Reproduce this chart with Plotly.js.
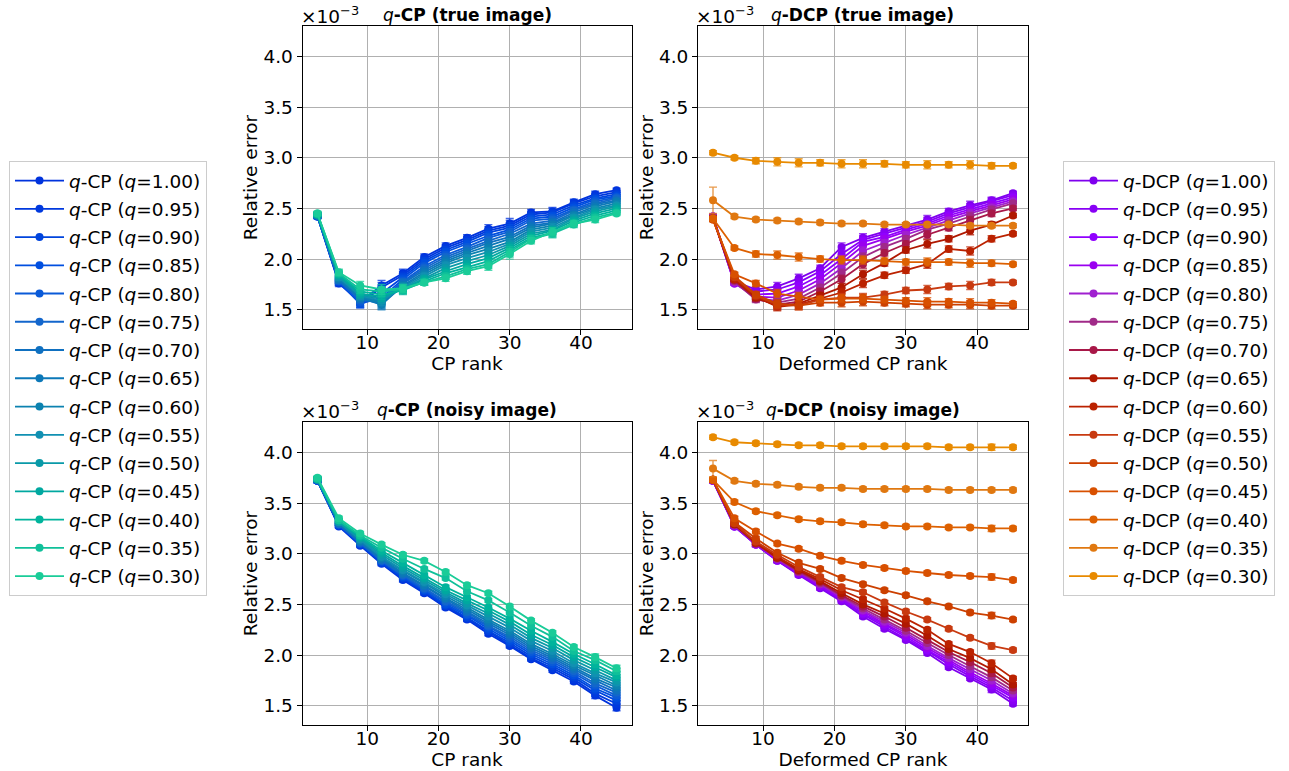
<!DOCTYPE html>
<html>
<head>
<meta charset="utf-8">
<script src="https://cdn.plot.ly/plotly-3.0.1.min.js"></script>
<style>
  html, body { margin: 0; padding: 0; background: #ffffff; }
  #chart { width: 1289px; height: 771px; }
</style>
</head>
<body>
<div id="chart"></div>
<script>
// ---------------- data (values in units of 1e-3) ----------------
const ranks = [3, 6, 9, 12, 15, 18, 21, 24, 27, 30, 33, 36, 39, 42, 45];
const qLabels = ['1.00','0.95','0.90','0.85','0.80','0.75','0.70','0.65','0.60','0.55','0.50','0.45','0.40','0.35','0.30'];

const cpColors = ['#0033dd','#0039de','#0044dd','#004fe0','#0a5ad8','#1366cc','#0f70c0','#0c78b8','#0c82b0','#1190b2','#0a9aa8','#00a8a0','#00b49c','#10c09a','#1acc98'];
const dcpColors = ['#7f00ee','#8800f5','#9000ff','#9a00f0','#a020d0','#a02a88','#a81848','#b01800','#bb2200','#c83a10','#cc4000','#d85000','#dd6000','#e07810','#e88a00'];

// q-CP, true image (rows: q = 1.00 ... 0.30)
const cpTrue = [
  [2.42, 1.76, 1.58, 1.74, 1.86, 2.02, 2.13, 2.21, 2.30, 2.35, 2.46, 2.47, 2.56, 2.64, 2.68],
  [2.42, 1.77, 1.56, 1.72, 1.84, 2.00, 2.11, 2.19, 2.28, 2.33, 2.44, 2.46, 2.55, 2.62, 2.66],
  [2.42, 1.77, 1.57, 1.66, 1.82, 1.98, 2.09, 2.17, 2.26, 2.31, 2.42, 2.44, 2.53, 2.60, 2.64],
  [2.43, 1.78, 1.56, 1.62, 1.80, 1.96, 2.07, 2.15, 2.23, 2.29, 2.40, 2.42, 2.51, 2.59, 2.62],
  [2.43, 1.78, 1.58, 1.60, 1.78, 1.93, 2.04, 2.12, 2.21, 2.27, 2.38, 2.40, 2.49, 2.57, 2.61],
  [2.43, 1.79, 1.60, 1.58, 1.77, 1.91, 2.02, 2.10, 2.18, 2.25, 2.35, 2.38, 2.48, 2.55, 2.60],
  [2.43, 1.79, 1.61, 1.56, 1.76, 1.89, 2.00, 2.08, 2.16, 2.22, 2.33, 2.36, 2.46, 2.54, 2.58],
  [2.43, 1.80, 1.62, 1.55, 1.74, 1.87, 1.98, 2.06, 2.13, 2.20, 2.31, 2.35, 2.44, 2.52, 2.57],
  [2.43, 1.81, 1.63, 1.57, 1.73, 1.85, 1.96, 2.04, 2.10, 2.17, 2.29, 2.33, 2.43, 2.50, 2.55],
  [2.44, 1.82, 1.64, 1.59, 1.72, 1.83, 1.94, 2.01, 2.07, 2.15, 2.27, 2.31, 2.41, 2.49, 2.53],
  [2.44, 1.83, 1.65, 1.61, 1.71, 1.81, 1.91, 1.98, 2.04, 2.13, 2.25, 2.29, 2.40, 2.47, 2.52],
  [2.44, 1.84, 1.66, 1.63, 1.70, 1.80, 1.88, 1.95, 2.01, 2.11, 2.23, 2.28, 2.38, 2.45, 2.50],
  [2.44, 1.85, 1.68, 1.65, 1.69, 1.78, 1.86, 1.92, 1.98, 2.09, 2.21, 2.26, 2.36, 2.43, 2.48],
  [2.45, 1.86, 1.70, 1.68, 1.70, 1.77, 1.83, 1.90, 1.95, 2.07, 2.20, 2.25, 2.34, 2.41, 2.46],
  [2.45, 1.87, 1.74, 1.70, 1.71, 1.77, 1.81, 1.88, 1.93, 2.05, 2.18, 2.27, 2.35, 2.39, 2.45]
];
const cpTrueErr = [0.02, 0.03, 0.04, 0.05, 0.04, 0.03, 0.03, 0.03, 0.04, 0.05, 0.03, 0.04, 0.03, 0.03, 0.02];

// q-DCP, true image
const dcpTrue = [
  [2.42, 1.78, 1.70, 1.73, 1.81, 1.91, 2.12, 2.21, 2.27, 2.33, 2.39, 2.47, 2.53, 2.58, 2.65],
  [2.42, 1.77, 1.68, 1.70, 1.77, 1.88, 2.05, 2.19, 2.25, 2.31, 2.37, 2.45, 2.51, 2.57, 2.63],
  [2.42, 1.76, 1.65, 1.66, 1.73, 1.84, 2.00, 2.17, 2.22, 2.29, 2.35, 2.43, 2.49, 2.55, 2.61],
  [2.41, 1.76, 1.63, 1.62, 1.69, 1.80, 1.96, 2.13, 2.20, 2.27, 2.33, 2.41, 2.47, 2.53, 2.59],
  [2.41, 1.77, 1.61, 1.59, 1.65, 1.76, 1.91, 2.08, 2.16, 2.24, 2.31, 2.38, 2.45, 2.51, 2.57],
  [2.41, 1.78, 1.60, 1.57, 1.61, 1.72, 1.86, 2.02, 2.12, 2.20, 2.29, 2.35, 2.42, 2.49, 2.55],
  [2.40, 1.79, 1.61, 1.55, 1.58, 1.68, 1.80, 1.95, 2.06, 2.15, 2.24, 2.31, 2.38, 2.45, 2.50],
  [2.40, 1.80, 1.62, 1.54, 1.56, 1.64, 1.72, 1.85, 1.96, 2.09, 2.15, 2.20, 2.28, 2.34, 2.43],
  [2.40, 1.80, 1.63, 1.53, 1.55, 1.61, 1.67, 1.76, 1.84, 1.89, 1.95, 2.10, 2.08, 2.20, 2.25],
  [2.40, 1.82, 1.64, 1.55, 1.54, 1.60, 1.62, 1.62, 1.65, 1.69, 1.70, 1.73, 1.74, 1.77, 1.77],
  [2.39, 1.83, 1.65, 1.56, 1.54, 1.57, 1.57, 1.58, 1.57, 1.56, 1.55, 1.55, 1.55, 1.54, 1.54],
  [2.39, 1.85, 1.76, 1.66, 1.63, 1.60, 1.61, 1.61, 1.60, 1.59, 1.58, 1.58, 1.57, 1.57, 1.56],
  [2.40, 2.11, 2.05, 2.04, 2.02, 2.00, 1.99, 1.99, 1.98, 1.97, 1.97, 1.97, 1.96, 1.96, 1.95],
  [2.58, 2.42, 2.39, 2.38, 2.37, 2.36, 2.35, 2.35, 2.34, 2.34, 2.34, 2.34, 2.33, 2.33, 2.33],
  [3.05, 3.00, 2.97, 2.96, 2.95, 2.95, 2.94, 2.94, 2.94, 2.93, 2.93, 2.93, 2.93, 2.92, 2.92]
];
const dcpTrueErr = [0.02, 0.02, 0.03, 0.04, 0.04, 0.03, 0.04, 0.04, 0.03, 0.03, 0.04, 0.03, 0.04, 0.03, 0.02];
const dcpTrueErrQ035 = [0.13, 0.02, 0.02, 0.02, 0.02, 0.02, 0.02, 0.02, 0.02, 0.02, 0.02, 0.02, 0.02, 0.02, 0.02];

// q-CP, noisy image
const cpNoisy = [
  [3.72, 3.27, 3.08, 2.90, 2.74, 2.61, 2.47, 2.35, 2.21, 2.09, 1.96, 1.85, 1.74, 1.60, 1.48],
  [3.72, 3.28, 3.09, 2.91, 2.75, 2.62, 2.48, 2.36, 2.23, 2.10, 1.97, 1.87, 1.76, 1.62, 1.52],
  [3.72, 3.28, 3.09, 2.91, 2.76, 2.63, 2.49, 2.37, 2.24, 2.12, 1.99, 1.89, 1.78, 1.65, 1.55],
  [3.72, 3.28, 3.10, 2.92, 2.77, 2.64, 2.50, 2.39, 2.26, 2.14, 2.01, 1.91, 1.80, 1.67, 1.58],
  [3.73, 3.29, 3.10, 2.93, 2.78, 2.65, 2.52, 2.40, 2.28, 2.16, 2.03, 1.93, 1.82, 1.70, 1.60],
  [3.73, 3.29, 3.11, 2.93, 2.79, 2.66, 2.53, 2.42, 2.29, 2.18, 2.05, 1.95, 1.84, 1.72, 1.63],
  [3.73, 3.30, 3.12, 2.94, 2.80, 2.68, 2.55, 2.43, 2.31, 2.20, 2.07, 1.97, 1.86, 1.75, 1.65],
  [3.73, 3.30, 3.12, 2.95, 2.81, 2.69, 2.56, 2.45, 2.33, 2.22, 2.09, 1.99, 1.88, 1.77, 1.68],
  [3.73, 3.31, 3.13, 2.96, 2.83, 2.71, 2.58, 2.47, 2.35, 2.24, 2.11, 2.01, 1.90, 1.80, 1.70],
  [3.73, 3.31, 3.14, 2.97, 2.84, 2.72, 2.60, 2.49, 2.38, 2.27, 2.14, 2.04, 1.92, 1.82, 1.73],
  [3.74, 3.32, 3.15, 2.99, 2.86, 2.74, 2.62, 2.51, 2.41, 2.30, 2.17, 2.07, 1.95, 1.85, 1.75],
  [3.74, 3.32, 3.16, 3.01, 2.88, 2.76, 2.64, 2.54, 2.44, 2.33, 2.20, 2.10, 1.98, 1.88, 1.78],
  [3.74, 3.33, 3.17, 3.03, 2.91, 2.79, 2.67, 2.57, 2.47, 2.36, 2.24, 2.13, 2.01, 1.91, 1.80],
  [3.74, 3.33, 3.18, 3.06, 2.95, 2.85, 2.76, 2.63, 2.54, 2.42, 2.29, 2.18, 2.04, 1.95, 1.84],
  [3.75, 3.35, 3.20, 3.09, 2.99, 2.93, 2.82, 2.69, 2.61, 2.48, 2.34, 2.22, 2.08, 1.98, 1.87]
];
const cpNoisyErr = [0.02, 0.02, 0.02, 0.02, 0.02, 0.02, 0.02, 0.02, 0.02, 0.02, 0.02, 0.02, 0.02, 0.03, 0.03];

// q-DCP, noisy image
const dcpNoisy = [
  [3.72, 3.27, 3.09, 2.93, 2.79, 2.66, 2.53, 2.38, 2.26, 2.15, 2.02, 1.88, 1.77, 1.66, 1.52],
  [3.72, 3.27, 3.09, 2.93, 2.80, 2.67, 2.54, 2.40, 2.28, 2.16, 2.04, 1.91, 1.79, 1.68, 1.55],
  [3.72, 3.27, 3.09, 2.94, 2.80, 2.68, 2.55, 2.41, 2.30, 2.18, 2.05, 1.93, 1.81, 1.70, 1.58],
  [3.72, 3.28, 3.09, 2.94, 2.81, 2.69, 2.56, 2.43, 2.31, 2.20, 2.07, 1.95, 1.83, 1.72, 1.60],
  [3.72, 3.28, 3.10, 2.95, 2.82, 2.70, 2.57, 2.44, 2.33, 2.22, 2.09, 1.97, 1.86, 1.75, 1.62],
  [3.73, 3.28, 3.10, 2.95, 2.82, 2.71, 2.58, 2.46, 2.35, 2.24, 2.12, 2.00, 1.89, 1.78, 1.65],
  [3.73, 3.29, 3.10, 2.96, 2.83, 2.72, 2.59, 2.48, 2.38, 2.27, 2.15, 2.03, 1.93, 1.82, 1.68],
  [3.73, 3.29, 3.11, 2.96, 2.84, 2.73, 2.61, 2.50, 2.41, 2.31, 2.19, 2.06, 1.97, 1.86, 1.71],
  [3.73, 3.30, 3.11, 2.97, 2.85, 2.75, 2.64, 2.55, 2.46, 2.36, 2.25, 2.11, 2.03, 1.92, 1.77],
  [3.73, 3.30, 3.12, 2.99, 2.87, 2.77, 2.67, 2.62, 2.52, 2.43, 2.35, 2.26, 2.17, 2.09, 2.05],
  [3.73, 3.31, 3.15, 3.01, 2.91, 2.85, 2.76, 2.70, 2.64, 2.59, 2.53, 2.48, 2.42, 2.39, 2.35],
  [3.73, 3.35, 3.22, 3.10, 3.05, 2.98, 2.93, 2.89, 2.86, 2.83, 2.81, 2.79, 2.78, 2.77, 2.74],
  [3.73, 3.51, 3.42, 3.38, 3.34, 3.32, 3.31, 3.29, 3.28, 3.27, 3.27, 3.26, 3.26, 3.25, 3.25],
  [3.84, 3.72, 3.69, 3.68, 3.66, 3.65, 3.65, 3.64, 3.64, 3.64, 3.64, 3.63, 3.63, 3.63, 3.63],
  [4.15, 4.10, 4.09, 4.08, 4.07, 4.07, 4.06, 4.06, 4.06, 4.06, 4.06, 4.05, 4.05, 4.05, 4.05]
];
const dcpNoisyErr = [0.02, 0.02, 0.02, 0.02, 0.02, 0.02, 0.02, 0.02, 0.02, 0.02, 0.02, 0.02, 0.02, 0.03, 0.02];
const dcpNoisyErrQ035 = [0.08, 0.02, 0.02, 0.02, 0.02, 0.02, 0.02, 0.02, 0.02, 0.02, 0.02, 0.02, 0.02, 0.02, 0.02];

// ---------------- build traces ----------------
function hexA(hex, a) {
  const r = parseInt(hex.slice(1, 3), 16), g = parseInt(hex.slice(3, 5), 16), b = parseInt(hex.slice(5, 7), 16);
  return 'rgba(' + r + ',' + g + ',' + b + ',' + a + ')';
}

const traces = [];
function addPanel(rows, errs, errSpecial, colors, name, xa, ya, legendId, show) {
  rows.forEach(function (vals, i) {
    const err = (errSpecial && qLabels[i] === '0.35') ? errSpecial : errs;
    traces.push({
      type: 'scatter', mode: 'lines+markers',
      x: ranks, y: vals,
      xaxis: xa, yaxis: ya,
      name: '<i>q</i>-' + name + ' (<i>q</i>=' + qLabels[i] + ')',
      legend: legendId,
      legendgroup: name + '_' + qLabels[i],
      showlegend: show,
      line: { color: colors[i], width: 1.8 },
      marker: { color: colors[i], size: 8, symbol: 'circle' },
      error_y: { type: 'data', array: err, visible: true, color: hexA(colors[i], 0.75), thickness: 1.4, width: 4 }
    });
  });
}
addPanel(cpTrue, cpTrueErr, null, cpColors, 'CP', 'x', 'y', 'legend', true);
addPanel(dcpTrue, dcpTrueErr, dcpTrueErrQ035, dcpColors, 'DCP', 'x2', 'y2', 'legend2', true);
addPanel(cpNoisy, cpNoisyErr, null, cpColors, 'CP', 'x3', 'y3', 'legend', false);
addPanel(dcpNoisy, dcpNoisyErr, dcpNoisyErrQ035, dcpColors, 'DCP', 'x4', 'y4', 'legend2', false);

// ---------------- layout ----------------
const W = 1289, H = 771;
const FONT = 'DejaVu Sans, sans-serif';
const fs = 18.5;
const colL = [302.5 / W, 631.5 / W];
const colR = [698 / W, 1028 / W];
const rowT = [1 - 329 / H, 1 - 26 / H];
const rowB = [1 - 725 / H, 1 - 422 / H];

function xAxis(dom, anchor, title) {
  return {
    domain: dom, anchor: anchor, range: [0.9, 47.1],
    tickmode: 'array', tickvals: [10, 20, 30, 40],
    showgrid: true, gridcolor: '#b0b0b0', gridwidth: 1,
    zeroline: false, showline: true, mirror: true, linecolor: '#000', linewidth: 1,
    ticks: 'outside', ticklen: 5, tickwidth: 1, tickcolor: '#000',
    ticklabelstandoff: -8,
    tickfont: { family: FONT, size: fs, color: '#000' },
    title: { text: title, font: { family: FONT, size: fs, color: '#000' }, standoff: 4 }
  };
}
function yAxis(dom, anchor) {
  return {
    domain: dom, anchor: anchor, range: [1.31, 4.30],
    tickmode: 'array', tickvals: [1.5, 2.0, 2.5, 3.0, 3.5, 4.0], ticktext: ['1.5', '2.0', '2.5', '3.0', '3.5', '4.0'],
    showgrid: true, gridcolor: '#b0b0b0', gridwidth: 1,
    zeroline: false, showline: true, mirror: true, linecolor: '#000', linewidth: 1,
    ticks: 'outside', ticklen: 5, tickwidth: 1, tickcolor: '#000',
    tickfont: { family: FONT, size: fs, color: '#000' },
    title: { text: 'Relative error', font: { family: FONT, size: fs, color: '#000' }, standoff: 0 }
  };
}

const titleFont = { family: FONT, size: 17, color: '#000' };
const expFont = { family: FONT, size: fs, color: '#000' };
const annotations = [
  { text: '<i>q</i><b>-CP (true image)</b>', x: (colL[0] + colL[1]) / 2, y: 1 - 15 / H },
  { text: '<i>q</i><b>-DCP (true image)</b>', x: (colR[0] + colR[1]) / 2, y: 1 - 15 / H },
  { text: '<i>q</i><b>-CP (noisy image)</b>', x: (colL[0] + colL[1]) / 2, y: 1 - 410 / H },
  { text: '<i>q</i><b>-DCP (noisy image)</b>', x: (colR[0] + colR[1]) / 2, y: 1 - 410 / H }
].map(function (a) {
  return Object.assign({ xref: 'paper', yref: 'paper', xanchor: 'center', yanchor: 'middle', showarrow: false, font: titleFont }, a);
});
[[colL[0], 1 - 15 / H], [colR[0], 1 - 15 / H], [colL[0], 1 - 410 / H], [colR[0], 1 - 410 / H]].forEach(function (p) {
  annotations.push({ text: '×10<sup>−3</sup>', x: p[0] - 4 / W, y: p[1], xref: 'paper', yref: 'paper', xanchor: 'left', yanchor: 'middle', showarrow: false, font: expFont });
});

const legendBase = {
  bgcolor: '#ffffff', bordercolor: '#cccccc', borderwidth: 1,
  font: { family: FONT, size: fs, color: '#000' },
  xanchor: 'left', yanchor: 'top', traceorder: 'grouped', tracegroupgap: 1.2, itemwidth: 49
};

const layout = {
  width: W, height: H,
  margin: { l: 0, r: 0, t: 0, b: 0 },
  paper_bgcolor: '#ffffff', plot_bgcolor: '#ffffff',
  font: { family: FONT, size: fs, color: '#000' },
  xaxis: xAxis(colL, 'y', 'CP rank'),
  yaxis: yAxis(rowT, 'x'),
  xaxis2: xAxis(colR, 'y2', 'Deformed CP rank'),
  yaxis2: yAxis(rowT, 'x2'),
  xaxis3: xAxis(colL, 'y3', 'CP rank'),
  yaxis3: yAxis(rowB, 'x3'),
  xaxis4: xAxis(colR, 'y4', 'Deformed CP rank'),
  yaxis4: yAxis(rowB, 'x4'),
  legend: Object.assign({}, legendBase, { x: 9 / W, y: 1 - 161 / H }),
  legend2: Object.assign({}, legendBase, { x: 1063 / W, y: 1 - 161 / H }),
  annotations: annotations,
  hovermode: false
};

Plotly.newPlot('chart', traces, layout, { staticPlot: true, displayModeBar: false });
</script>
</body>
</html>
